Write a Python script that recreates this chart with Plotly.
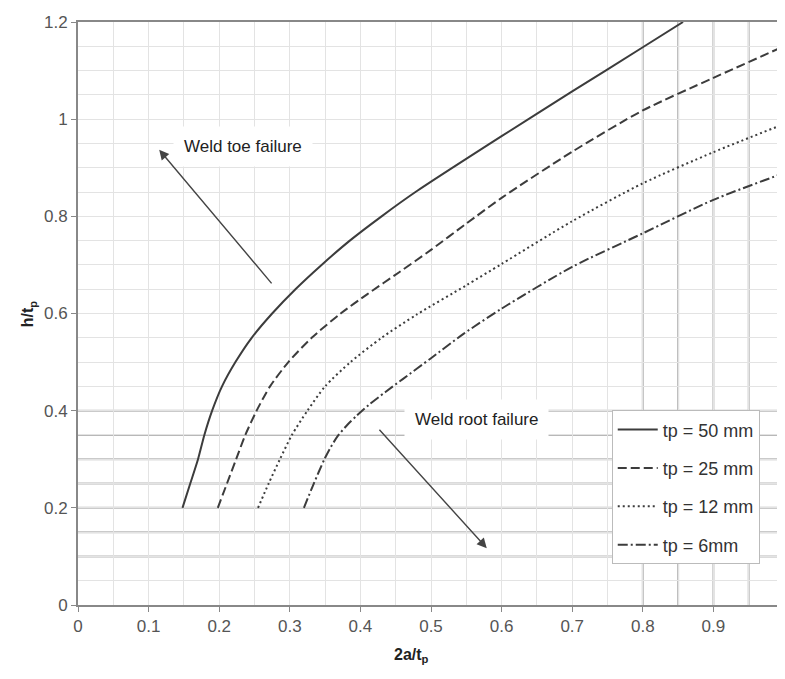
import plotly.graph_objects as go

# ---- data ----
x_50 = [0.148, 0.159, 0.170, 0.179, 0.190, 0.204, 0.223, 0.246, 0.275, 0.308, 0.345, 0.385, 0.430, 0.478, 0.600, 0.700, 0.800, 0.857]
y_50 = [0.200, 0.250, 0.300, 0.350, 0.400, 0.450, 0.500, 0.550, 0.600, 0.650, 0.700, 0.750, 0.800, 0.850, 0.965, 1.057, 1.148, 1.200]

x_25 = [0.198, 0.211, 0.224, 0.237, 0.253, 0.272, 0.298, 0.331, 0.372, 0.410, 0.455, 0.500, 0.550, 0.600, 0.700, 0.800, 0.900, 1.000]
y_25 = [0.200, 0.250, 0.300, 0.350, 0.400, 0.450, 0.500, 0.550, 0.600, 0.640, 0.685, 0.731, 0.785, 0.838, 0.933, 1.018, 1.085, 1.150]

x_12 = [0.255, 0.270, 0.286, 0.303, 0.325, 0.350, 0.386, 0.430, 0.480, 0.550, 0.600, 0.700, 0.800, 0.900, 1.000]
y_12 = [0.200, 0.250, 0.300, 0.350, 0.400, 0.450, 0.500, 0.550, 0.598, 0.658, 0.702, 0.790, 0.868, 0.932, 0.990]

x_6 = [0.320, 0.334, 0.349, 0.358, 0.368, 0.381, 0.395, 0.412, 0.435, 0.460, 0.500, 0.546, 0.600, 0.700, 0.800, 0.900, 1.000]
y_6 = [0.200, 0.250, 0.300, 0.325, 0.348, 0.370, 0.390, 0.412, 0.438, 0.465, 0.508, 0.558, 0.610, 0.696, 0.765, 0.834, 0.889]

series_names = ["tp = 50 mm", "tp = 25 mm", "tp = 12 mm", "tp = 6mm"]
series_dash = ["solid", "9px,4px", "2px,3px", "10px,3px,2px,3px"]

x_ticks = [0, 0.1, 0.2, 0.3, 0.4, 0.5, 0.6, 0.7, 0.8, 0.9, 1]
x_tick_text = ["0", "0.1", "0.2", "0.3", "0.4", "0.5", "0.6", "0.7", "0.8", "0.9", "1"]
y_ticks = [0, 0.2, 0.4, 0.6, 0.8, 1.0, 1.2]
y_tick_text = ["0", "0.2", "0.4", "0.6", "0.8", "1", "1.2"]

# darker grid lines visible in the reference
dark_h_lines = [0.10, 0.15, 0.20, 0.25, 0.30, 0.35, 0.40]
dark_v_lines = [0.80, 0.85, 0.90, 0.95]

FONT = "Liberation Sans, Arial, sans-serif"
LINE_COL = "#3c3c3c"

fig = go.Figure()
for xs, ys, name, dash in zip([x_50, x_25, x_12, x_6], [y_50, y_25, y_12, y_6], series_names, series_dash):
    fig.add_trace(go.Scatter(
        x=xs, y=ys, mode="lines", name=name, legendgroup=name,
        line=dict(color=LINE_COL, width=2, dash=dash, shape="spline", smoothing=0.7),
    ))

shapes = []
for yv in dark_h_lines:
    shapes.append(dict(type="line", xref="x", yref="y", x0=0, x1=1, y0=yv, y1=yv,
                       line=dict(color="#b8b8b8", width=2), layer="below"))
for xv in dark_v_lines:
    shapes.append(dict(type="line", xref="x", yref="y", x0=xv, x1=xv, y0=0, y1=1.2,
                       line=dict(color="#b8b8b8", width=2), layer="below"))

annotations = [
    dict(x=0.233, y=0.943, xref="x", yref="y", text="Weld toe failure", showarrow=False,
         font=dict(family=FONT, size=17, color="#222"), bgcolor="white", borderpad=10),
    dict(x=0.564, y=0.381, xref="x", yref="y", text="Weld root failure", showarrow=False,
         font=dict(family=FONT, size=17, color="#222"), bgcolor="white", borderpad=10),
    dict(x=0.115, y=0.937, ax=0.276, ay=0.659, xref="x", yref="y", axref="x", ayref="y",
         text="", showarrow=True, arrowhead=2, arrowsize=1.4, arrowwidth=1.4, arrowcolor="#444"),
    dict(x=0.579, y=0.117, ax=0.425, ay=0.364, xref="x", yref="y", axref="x", ayref="y",
         text="", showarrow=True, arrowhead=2, arrowsize=1.4, arrowwidth=1.4, arrowcolor="#444"),
    dict(x=0.472, y=-0.107, xref="x", yref="paper", text="<b>2a/t<sub>p</sub></b>", showarrow=False,
         font=dict(family=FONT, size=16, color="#222")),
    dict(x=-0.086, y=0.6, xref="paper", yref="y", text="<b>h/t<sub>p</sub></b>", showarrow=False,
         textangle=-90, font=dict(family=FONT, size=16, color="#222")),
]

# the page body has an 8px margin, so the figure is sized to fit inside the window
fig.update_layout(
    width=777, height=671,
    margin=dict(l=70, r=1, t=14, b=74),
    paper_bgcolor="white", plot_bgcolor="white",
    font=dict(family=FONT, size=17, color="#444"),
    showlegend=True,
    legend=dict(x=0.756, y=0.334, xanchor="left", yanchor="top",
                bgcolor="white", bordercolor="#bbb", borderwidth=1,
                font=dict(family=FONT, size=18, color="#333"),
                traceorder="grouped", tracegroupgap=12, itemwidth=40),
    shapes=shapes,
    annotations=annotations,
    xaxis=dict(range=[0, 1], tickvals=x_ticks, ticktext=x_tick_text, automargin=False,
               ticklabeloverflow="allow",
               showgrid=True, gridcolor="#e3e3e3", gridwidth=1,
               minor=dict(dtick=0.05, tick0=0, showgrid=True, gridcolor="#e3e3e3", gridwidth=1),
               showline=True, linecolor="#888", linewidth=2, mirror=True,
               ticks="outside", ticklen=5, tickcolor="#888", zeroline=False,
               tickfont=dict(family=FONT, size=17, color="#555")),
    yaxis=dict(range=[0, 1.2], tickvals=y_ticks, ticktext=y_tick_text, automargin=False,
               showgrid=True, gridcolor="#e3e3e3", gridwidth=1,
               minor=dict(dtick=0.05, tick0=0, showgrid=True, gridcolor="#e3e3e3", gridwidth=1),
               showline=True, linecolor="#888", linewidth=2, mirror=True,
               ticks="outside", ticklen=5, tickcolor="#888", zeroline=False,
               tickfont=dict(family=FONT, size=17, color="#555")),
)

fig.write_html("out.html")
